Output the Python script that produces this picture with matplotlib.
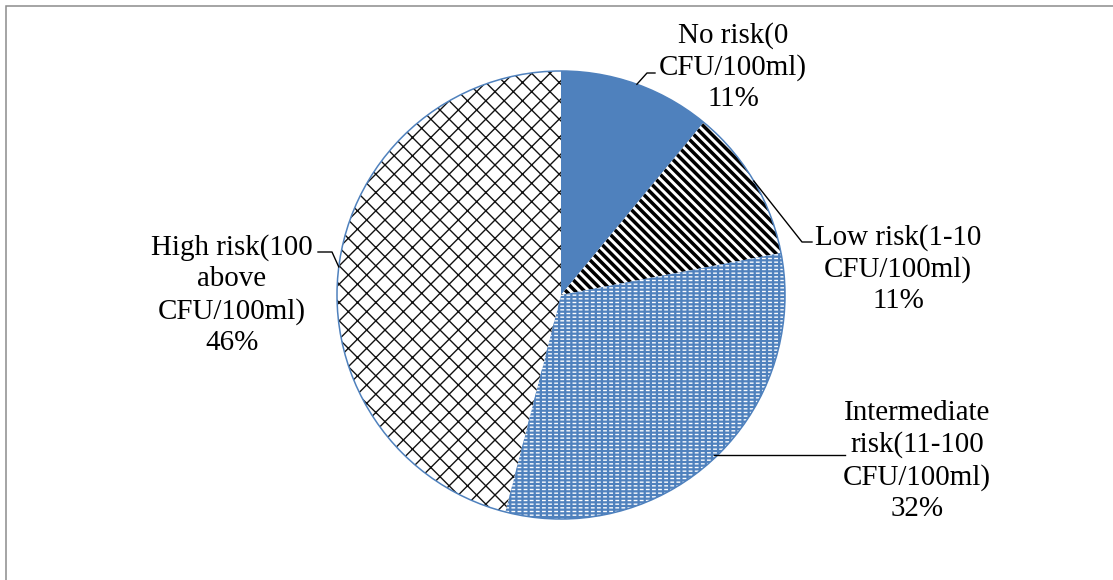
import numpy as np
import matplotlib
matplotlib.use('Agg')
import matplotlib.pyplot as plt
from matplotlib.patches import Wedge, Circle, Rectangle

# data
categories = ['No risk(0\nCFU/100ml)', 'Low risk(1-10\nCFU/100ml)',
              'Intermediate\nrisk(11-100\nCFU/100ml)', 'High risk(100\nabove\nCFU/100ml)']
shares = [11, 11, 32, 46]
pct_labels = ['11%', '11%', '32%', '46%']

BLUE = '#4F81BD'
DPI = 110
W, H = 1113, 580

plt.rcParams['font.family'] = ['Liberation Serif', 'DejaVu Serif']
plt.rcParams['hatch.linewidth'] = 1.0

fig = plt.figure(figsize=(W / DPI, H / DPI), dpi=DPI)
ax = fig.add_axes([0, 0, 1, 1])

# outer frame (cut by the right / bottom edge)
fig.patches.append(Rectangle((6 / W, -0.1), 1.2, 1 - 6 / H + 0.1, transform=fig.transFigure,
                             fill=False, edgecolor='#8c8c8c', linewidth=1.0))

cx, cy, r = 561, H - 295, 224
faces = [BLUE, 'white', BLUE, 'white']
hatch_cols = [BLUE, 'black', 'white', '#111111']
hatches = ['', '\\\\\\\\', '-----', 'xx']
hatch_lw = [1.0, 2.3, 0.9, 0.9]

wedges, _ = ax.pie(shares, startangle=90, counterclock=False, center=(cx, cy),
                   radius=r, colors=faces, frame=True)
ax.set_xlim(0, W)
ax.set_ylim(0, H)
ax.set_aspect('auto')
ax.axis('off')

for w, fc, hc, ht, lw in zip(wedges, faces, hatch_cols, hatches, hatch_lw):
    w.set_facecolor(fc)
    w.set_edgecolor(hc)
    w.set_linewidth(0)
    w.set_hatch(ht)
    if hasattr(w, 'set_hatch_linewidth'):
        w.set_hatch_linewidth(lw)

# blue vertical cuts to turn the white lines into dashes
mid = wedges[2]
cut = Wedge(mid.center, mid.r, mid.theta1, mid.theta2, facecolor='none',
            edgecolor=BLUE, linewidth=0, hatch='|||')
if hasattr(cut, 'set_hatch_linewidth'):
    cut.set_hatch_linewidth(1.5)
ax.add_patch(cut)

ax.add_patch(Circle((cx, cy), r, fill=False, edgecolor=BLUE, linewidth=1.0, zorder=5))

# labels with leader lines
text_pos = [(733, H - 67), (898, H - 269), (917, H - 461), (232, H - 295)]
elbows = [[(647, H - 73), (655, H - 73)],
          [(802, H - 242), (812, H - 242)],
          [(780, H - 455), (845, H - 455)],
          [(332, H - 252), (318, H - 252)]]
for w, cat, pct, tp, el in zip(wedges, categories, pct_labels, text_pos, elbows):
    ang = np.deg2rad((w.theta1 + w.theta2) / 2)
    ax_x = w.center[0] + w.r * np.cos(ang)
    ax_y = w.center[1] + w.r * np.sin(ang)
    xs = [ax_x] + [p[0] for p in el]
    ys = [ax_y] + [p[1] for p in el]
    if el[0][1] == el[1][1] and abs(ax_y - el[0][1]) < 6:
        xs, ys = [ax_x, el[1][0]], [el[1][1], el[1][1]]
    ax.plot(xs, ys, color='black', linewidth=0.9, zorder=6)
    ax.text(tp[0], tp[1], cat + '\n' + pct, ha='center', va='center',
            multialignment='center', fontsize=19, linespacing=1.26, zorder=7)

fig.savefig('out.png', dpi=DPI)
